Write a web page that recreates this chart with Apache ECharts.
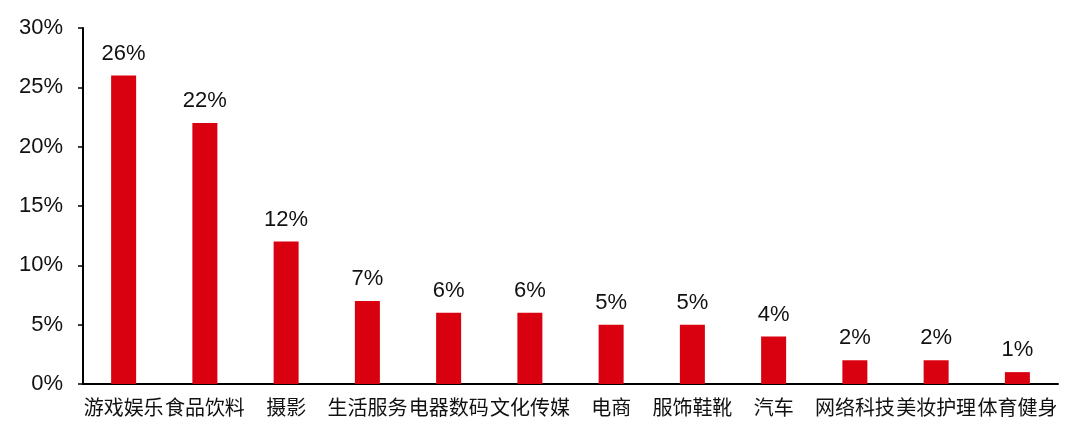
<!DOCTYPE html>
<html><head><meta charset="utf-8">
<script src="https://cdn.jsdelivr.net/npm/echarts@6/dist/echarts.min.js"></script>
<style>html,body{margin:0;padding:0;background:#fff}#c{width:1080px;height:438px}</style>
</head><body><div id="c"></div>
<script>
const categories = ['游戏娱乐','食品饮料','摄影','生活服务','电器数码','文化传媒','电商','服饰鞋靴','汽车','网络科技','美妆护理','体育健身'];
const values = [26,22,12,7,6,6,5,5,4,2,2,1];
const yTicks = [0,5,10,15,20,25,30];
const chart = echarts.init(document.getElementById('c'));
const font = 'Arial, "Liberation Sans", "Noto Sans CJK SC", sans-serif';
chart.setOption({
  animation:false,
  grid:{left:83,right:22,top:28,bottom:54,containLabel:false},
  xAxis:{type:'category',data:categories,
    axisLine:{lineStyle:{color:'#000',width:2}},
    axisTick:{show:false},
    axisLabel:{color:'#111',fontSize:20,fontFamily:font,margin:15,interval:0}},
  yAxis:{type:'value',min:yTicks[0],max:yTicks[yTicks.length-1],interval:5,
    axisLine:{show:true,lineStyle:{color:'#000',width:2}},
    axisTick:{show:true,length:5,lineStyle:{color:'#000',width:1.5}},
    splitLine:{show:false},
    axisLabel:{color:'#111',fontSize:22,fontFamily:font,margin:20,formatter:v=>v+'%'}},
  series:[{type:'bar',data:values,barWidth:25,
    itemStyle:{color:'#d9000f'},
    label:{show:true,position:'top',distance:11,color:'#111',fontSize:22,fontFamily:font,formatter:p=>p.value+'%'}}]
});
</script></body></html>
